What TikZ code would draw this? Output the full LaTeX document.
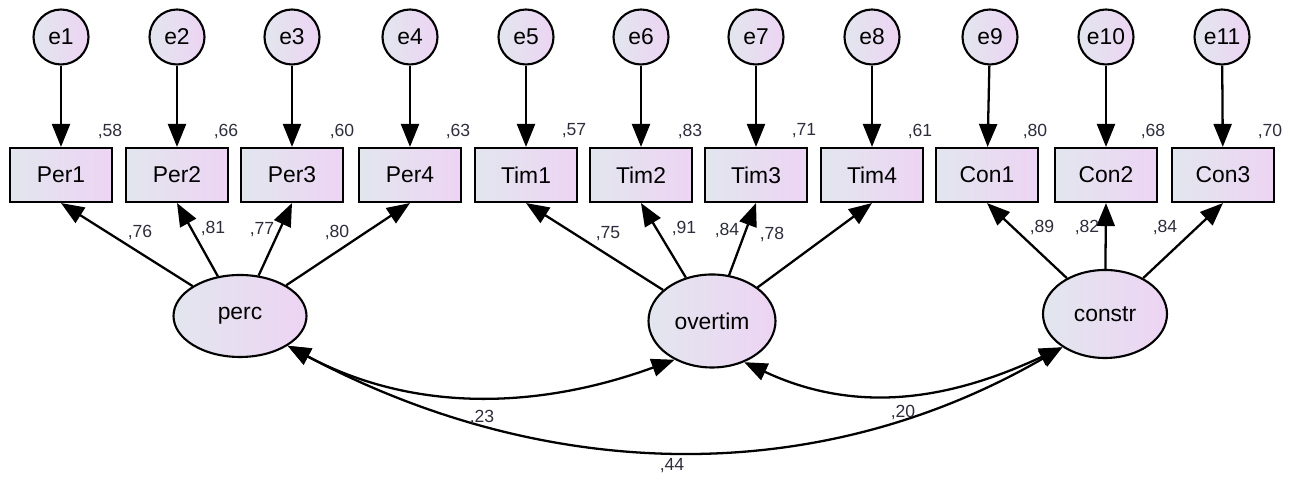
\documentclass[tikz,border=0pt]{standalone}
\usepackage{fontspec}
\setsansfont{Liberation Sans}
\usepackage{tikz}
\usetikzlibrary{shapes.geometric, arrows.meta}
\definecolor{fillleft}{RGB}{226,230,238}
\definecolor{fillright}{RGB}{237,212,243}
\definecolor{estcol}{RGB}{45,45,60}

\begin{document}
\begin{tikzpicture}[font=\sffamily,
    obs/.style={draw, line width=1.2pt, left color=fillleft, right color=fillright,
        minimum width=2.04cm, minimum height=1.08cm, font=\sffamily\fontsize{13}{15}\selectfont},
    err/.style={draw, circle, line width=1.2pt, left color=fillleft, right color=fillright,
        minimum size=1.1cm, inner sep=0pt, font=\sffamily\fontsize{13}{15}\selectfont},
    lat/.style={draw, ellipse, line width=1.2pt, left color=fillleft, right color=fillright,
        inner sep=0pt, font=\sffamily\fontsize{13}{15}\selectfont},
    est/.style={text=estcol, font=\sffamily\fontsize{10}{12}\selectfont, inner sep=0pt},
    path/.style={line width=1.3pt, -{Triangle[length=0.46cm, width=0.36cm]}},
    cov/.style={line width=1.3pt, {Triangle[length=0.46cm, width=0.36cm]}-{Triangle[length=0.46cm, width=0.36cm]}}]
    % Define the canvas
    \useasboundingbox (0,0) rectangle (26,9.68);
    % error terms
    \node[err] (e1) at (1.22,8.94) {e1};
    \node[err] (e2) at (3.54,8.94) {e2};
    \node[err] (e3) at (5.84,8.94) {e3};
    \node[err] (e4) at (8.20,8.94) {e4};
    \node[err] (e5) at (10.52,8.94) {e5};
    \node[err] (e6) at (12.82,8.94) {e6};
    \node[err] (e7) at (15.12,8.94) {e7};
    \node[err] (e8) at (17.44,8.94) {e8};
    \node[err] (e9) at (19.80,8.94) {e9};
    \node[err] (e10) at (22.12,8.94) {e10};
    \node[err] (e11) at (24.44,8.94) {e11};
    % observed variables
    \node[obs] (Per1) at (1.22,6.18) {Per1};
    \node[obs] (Per2) at (3.54,6.18) {Per2};
    \node[obs] (Per3) at (5.84,6.18) {Per3};
    \node[obs] (Per4) at (8.20,6.18) {Per4};
    \node[obs] (Tim1) at (10.52,6.18) {Tim1};
    \node[obs] (Tim2) at (12.82,6.18) {Tim2};
    \node[obs] (Tim3) at (15.12,6.18) {Tim3};
    \node[obs] (Tim4) at (17.44,6.18) {Tim4};
    \node[obs] (Con1) at (19.74,6.18) {Con1};
    \node[obs] (Con2) at (22.12,6.18) {Con2};
    \node[obs] (Con3) at (24.46,6.18) {Con3};
    % latent variables
    \node[lat, minimum width=2.66cm, minimum height=1.64cm] (perc) at (4.80,3.36) {perc};
    \node[lat, minimum width=2.54cm, minimum height=1.86cm] (overtim) at (14.24,3.26) {overtim};
    \node[lat, minimum width=2.48cm, minimum height=1.76cm] (constr) at (22.10,3.40) {constr};
    % errors to indicators
    \draw[path] (e1) -- (Per1);
    \draw[path] (e2) -- (Per2);
    \draw[path] (e3) -- (Per3);
    \draw[path] (e4) -- (Per4);
    \draw[path] (e5) -- (Tim1);
    \draw[path] (e6) -- (Tim2);
    \draw[path] (e7) -- (Tim3);
    \draw[path] (e8) -- (Tim4);
    \draw[path] (e9) -- (Con1);
    \draw[path] (e10) -- (Con2);
    \draw[path] (e11) -- (Con3);
    % loadings
    \draw[path] (perc) -- (Per1.south);
    \draw[path] (perc) -- (Per2.south);
    \draw[path] (perc) -- (Per3.south);
    \draw[path] (perc) -- (Per4.south);
    \draw[path] (overtim) -- (Tim1.south);
    \draw[path] (overtim) -- (Tim2.south);
    \draw[path] (overtim) -- (Tim3.south);
    \draw[path] (overtim) -- (Tim4.south);
    \draw[path] (constr) -- (Con1.south);
    \draw[path] (constr) -- (Con2.south);
    \draw[path] (constr) -- (Con3.south);
    % covariances
    \draw[cov] (perc.-32) to[out=-28, in=-160, looseness=0.95] (overtim.-134);
    \draw[cov] (overtim.-52) to[out=-25, in=-155, looseness=1.0] (constr.-142);
    \draw[cov] (perc.-32) to[out=-28, in=-150, looseness=0.95] (constr.-142);
    % squared multiple correlations
    \node[est] (r1) at (2.20,7.06) {,58};
    \node[est] (r2) at (4.52,7.06) {,66};
    \node[est] (r3) at (6.84,7.06) {,60};
    \node[est] (r4) at (9.16,7.06) {,63};
    \node[est] (r5) at (11.48,7.06) {,57};
    \node[est] (r6) at (13.80,7.06) {,83};
    \node[est] (r7) at (16.08,7.06) {,71};
    \node[est] (r8) at (18.40,7.06) {,61};
    \node[est] (r9) at (20.70,7.06) {,80};
    \node[est] (r10) at (23.06,7.06) {,68};
    \node[est] (r11) at (25.40,7.06) {,70};
    % loading labels
    \node[est] (l1) at (2.80,5.04) {,76};
    \node[est] (l2) at (4.26,5.12) {,81};
    \node[est] (l3) at (5.24,5.08) {,77};
    \node[est] (l4) at (6.74,5.04) {,80};
    \node[est] (l5) at (12.16,5.00) {,75};
    \node[est] (l6) at (13.68,5.12) {,91};
    \node[est] (l7) at (14.54,5.08) {,84};
    \node[est] (l8) at (15.44,5.00) {,78};
    \node[est] (l9) at (20.84,5.14) {,89};
    \node[est] (l10) at (21.74,5.14) {,82};
    \node[est] (l11) at (23.30,5.14) {,84};
    % correlation labels
    \node[est] (c1) at (9.64,1.34) {,23};
    \node[est] (c2) at (18.06,1.44) {,20};
    \node[est] (c3) at (13.44,0.36) {,44};
\end{tikzpicture}
\end{document}
